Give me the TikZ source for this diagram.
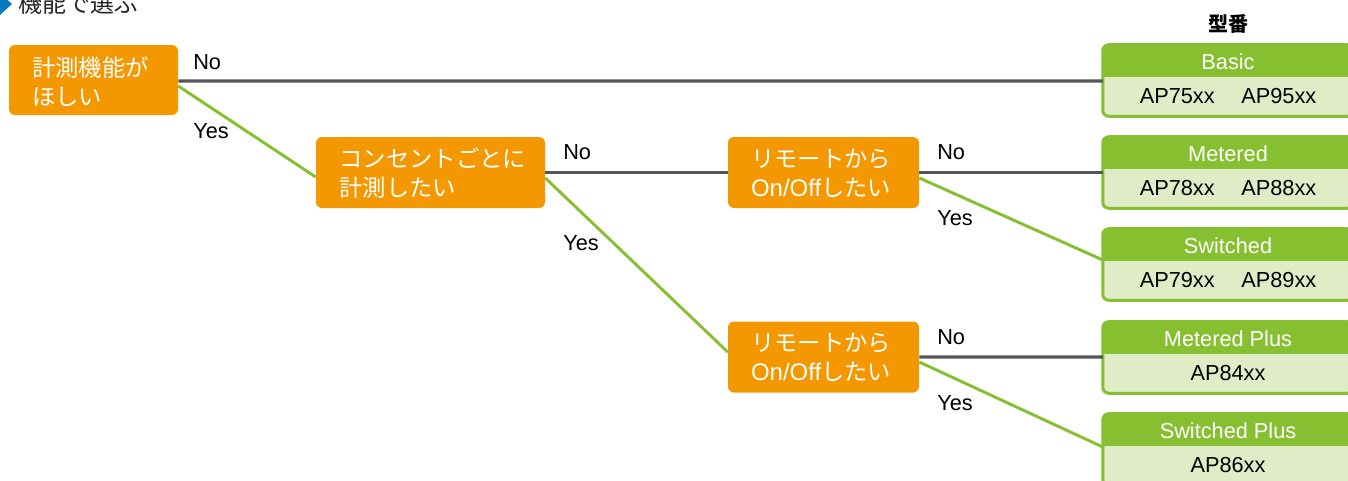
\documentclass[tikz,border=0pt]{standalone}
\usepackage{fontspec}
\setmainfont{Liberation Sans}
\newfontfamily\jp{Noto Sans CJK JP}
\newfontfamily\lat{Liberation Sans}
\definecolor{orng}{HTML}{F39800}
\definecolor{grn}{HTML}{86BF30}
\definecolor{lgrn}{HTML}{DFECC6}
\definecolor{gry}{HTML}{53575A}
\definecolor{ttlblue}{HTML}{0A78C2}
\tikzset{
  q/.style={fill=orng, rounded corners=4.5pt, inner sep=0pt, minimum height=53.25pt},
  qt/.style={anchor=west, text=white, align=left, inner sep=0pt,
    font=\jp\fontsize{17.5}{21.75}\selectfont},
  modelbg/.style={fill=lgrn, minimum width=187.5pt, minimum height=53.25pt,
    rounded corners=4.5pt, inner sep=0pt},
  hdr/.style={text=white, font=\lat\fontsize{16.3}{18}\selectfont, inner sep=0pt},
  bdy/.style={text=black, font=\lat\fontsize{16.3}{18}\selectfont, inner sep=0pt},
  lbl/.style={anchor=west, inner sep=0pt, font=\lat\fontsize{16.3}{18}\selectfont},
  noline/.style={draw=gry, line width=2.4pt},
  yesline/.style={draw=grn, line width=2.2pt},
}
\newcommand\modelbox[4]{%
  \node[modelbg] (#1) at (1228,#2) {};
  \fill[grn, rounded corners=4.5pt] (#1.north west) rectangle ([yshift=-24pt]#1.north east);
  \fill[grn] ([yshift=-12pt]#1.north west) rectangle ([yshift=-24pt]#1.north east);
  \draw[grn, line width=2.25pt, rounded corners=4.5pt] (#1.north west) rectangle (#1.south east);
  \node[hdr] (#1h) at ([yshift=-12.6pt]#1.north) {#3};
  \node[bdy] (#1b) at ([yshift=-38.6pt]#1.north) {#4};
}
\newcommand\onoff{{\lat\fontsize{18}{21.75}\selectfont On/Off}}
\begin{document}
\begin{tikzpicture}[x=0.75pt,y=-0.75pt]
\useasboundingbox (0,0) rectangle (1348,480);
% title
\fill[ttlblue] (0,-7) -- (12,4) -- (0,15) -- cycle;
\node[anchor=base west, inner sep=0pt, text=black!85, font=\jp\fontsize{18}{20}\selectfont] (title) at (18,12) {機能で選ぶ};
\node[font=\jp\bfseries\fontsize{15}{18}\selectfont, inner sep=0pt] (kataban) at (1228,24) {型番};

% question nodes
\node[q, minimum width=126.75pt, minimum height=52.5pt] (q1) at (93.5,80) {};
\node[qt] (q1t) at ([xshift=17.25pt,yshift=-1.5pt]q1.west) {計測機能が\\ほしい};
\node[q, minimum width=171.75pt] (q2) at (430.5,172.5) {};
\node[qt] (q2t) at ([xshift=17.6pt,yshift=-0.3pt]q2.west) {コンセントごとに\\計測したい};
\node[q, minimum width=143.25pt] (q3) at (823.5,172.5) {};
\node[qt] (q3t) at ([xshift=17.25pt,yshift=-0.3pt]q3.west) {リモートから\\\onoff したい};
\node[q, minimum width=143.25pt] (q4) at (823.5,357) {};
\node[qt] (q4t) at ([xshift=17.25pt,yshift=-0.3pt]q4.west) {リモートから\\\onoff したい};

% model boxes
\modelbox{basic}{80.5}{Basic}{AP75xx\hspace{20pt}AP95xx}
\modelbox{metered}{172.5}{Metered}{AP78xx\hspace{20pt}AP88xx}
\modelbox{switched}{264.5}{Switched}{AP79xx\hspace{20pt}AP89xx}
\modelbox{mplus}{357.5}{Metered Plus}{AP84xx}
\modelbox{splus}{449.5}{Switched Plus}{AP86xx}

% connectors
\draw[noline] ([yshift=-0.75pt]q1.east) -- ([yshift=-0.4pt]basic.west);
\draw[yesline] ([yshift=-4.5pt]q1.east) -- ([yshift=-3.4pt]q2.west);
\draw[noline] (q2.east) -- (q3.west);
\draw[yesline] ([yshift=-4.1pt]q2.east) -- ([yshift=3.75pt]q4.west);
\draw[noline] (q3.east) -- (metered.west);
\draw[yesline] ([yshift=-4.1pt]q3.east) -- ([yshift=3.4pt]switched.west);
\draw[noline] (q4.east) -- ([yshift=0.4pt]mplus.west);
\draw[yesline] ([yshift=-3.75pt]q4.east) -- ([yshift=1.9pt]splus.west);

% labels
\node[lbl] (n1) at (193,62) {No};
\node[lbl] (y1) at (193,131) {Yes};
\node[lbl] (n2) at (563,152) {No};
\node[lbl] (y2) at (563,243) {Yes};
\node[lbl] (n3) at (937,152) {No};
\node[lbl] (y3) at (937,218) {Yes};
\node[lbl] (n4) at (937,337) {No};
\node[lbl] (y4) at (937,403) {Yes};
\end{tikzpicture}
\end{document}
